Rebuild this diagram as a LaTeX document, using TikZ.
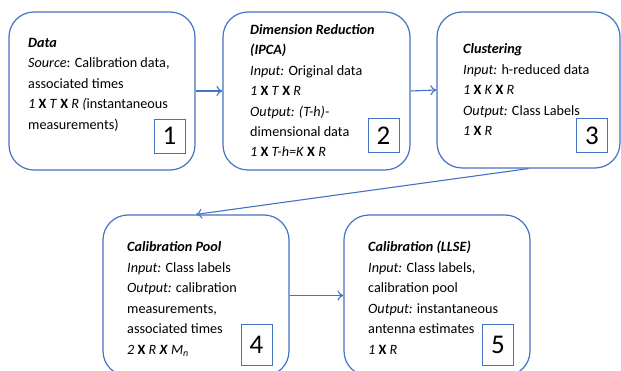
\documentclass[tikz,border=0pt]{standalone}
\usepackage{fontspec}
\setmainfont{Carlito}
\usetikzlibrary{arrows.meta}
\definecolor{ob}{RGB}{68,114,196}
\newcommand{\bX}{\textbf{\upshape X}}
\begin{document}
\begin{tikzpicture}[x=1pt,y=-1pt,
  bigbox/.style={draw=ob,line width=1.2pt,rounded corners=25pt},
  numbox/.style={draw=ob,line width=0.9pt,inner sep=0pt,font=\fontsize{27}{30}\selectfont},
  ln/.style={anchor=base west,inner sep=0pt,font=\fontsize{14.2}{17}\selectfont},
  conn/.style={draw=ob,line width=1.1pt,-{To[length=6pt,width=10pt]}}]
\useasboundingbox (0,0) rectangle (621,371);
% big boxes
\node[bigbox,minimum width=186pt,minimum height=158pt] (b1) at (102,91) {};
\node[bigbox,minimum width=187pt,minimum height=158pt] (b2) at (316.5,91) {};
\node[bigbox,minimum width=183pt,minimum height=156pt] (b3) at (528.5,90) {};
\node[bigbox,minimum width=186pt,minimum height=161pt] (b4) at (196,295.5) {};
\node[bigbox,minimum width=186pt,minimum height=161pt] (b5) at (437,295.5) {};
% number boxes
\node[numbox,minimum width=31pt,minimum height=34pt] (n1) at (169.5,136) {1};
\node[numbox,minimum width=31pt,minimum height=34pt] (n2) at (383.5,135.5) {2};
\node[numbox,minimum width=31pt,minimum height=34pt] (n3) at (592,135.5) {3};
\node[numbox,minimum width=31pt,minimum height=41pt] (n4) at (256.5,344.5) {4};
\node[numbox,minimum width=31pt,minimum height=41pt] (n5) at (498,345) {5};
% box 1 text
\node[ln] (t1a) at (28,48) {\textbf{\itshape Data}};
\node[ln] (t1b) at (28,68) {\textit{Source}: Calibration data,};
\node[ln] (t1c) at (28,88.5) {associated times};
\node[ln] (t1d) at (28,109) {\textit{1} \bX{} \textit{T} \bX{} \textit{R (}instantaneous};
\node[ln] (t1e) at (28,129.5) {measurements)};
% box 2 text
\node[ln] (t2a) at (250,34.5) {\textbf{\itshape Dimension Reduction}};
\node[ln] (t2b) at (250,55) {\textbf{\itshape (IPCA)}};
\node[ln] (t2c) at (250,76) {\textit{Input:} Original data};
\node[ln] (t2d) at (250,96) {\textit{1} \bX{} \textit{T} \bX{} \textit{R}};
\node[ln] (t2e) at (250,117) {\textit{Output: (T-h)-}};
\node[ln] (t2f) at (250,137) {dimensional data};
\node[ln] (t2g) at (250,157) {\textit{1} \bX{} \textit{T-h=K} \bX{} \textit{R}};
% box 3 text
\node[ln] (t3a) at (463,54) {\textbf{\itshape Clustering}};
\node[ln] (t3b) at (463,75) {\textit{Input:} h-reduced data};
\node[ln] (t3c) at (463,95) {\textit{1} \bX{} \textit{K} \bX{} \textit{R}};
\node[ln] (t3d) at (463,115.5) {\textit{Output:} Class Labels};
\node[ln] (t3e) at (463,136) {\textit{1} \bX{} \textit{R}};
% box 4 text
\node[ln] (t4a) at (127,252) {\textbf{\itshape Calibration Pool}};
\node[ln] (t4b) at (127,272.5) {\textit{Input:} Class labels};
\node[ln] (t4c) at (127,293) {\textit{Output:} calibration};
\node[ln] (t4d) at (127,313.5) {measurements,};
\node[ln] (t4e) at (127,334) {associated times};
\node[ln] (t4f) at (127,354) {\textit{2} \bX{} \textit{R} \textbf{\itshape X} \textit{M\textsubscript{n}}};
% box 5 text
\node[ln] (t5a) at (368,252) {\textbf{\itshape Calibration (LLSE)}};
\node[ln] (t5b) at (368,273) {\textit{Input:} Class labels,};
\node[ln] (t5c) at (368,293) {calibration pool};
\node[ln] (t5d) at (368,313.5) {\textit{Output:} instantaneous};
\node[ln] (t5e) at (368,334) {antenna estimates};
\node[ln] (t5f) at (368,354) {\textit{1} \bX{} \textit{R}};
% connectors
\draw[conn] (b1.east) -- (b2.west);
\draw[conn] (b2.east) -- (b3.west);
\draw[conn] (b3.south) -- (b4.north);
\draw[conn] (b4.east) -- (b5.west);
\end{tikzpicture}
\end{document}
